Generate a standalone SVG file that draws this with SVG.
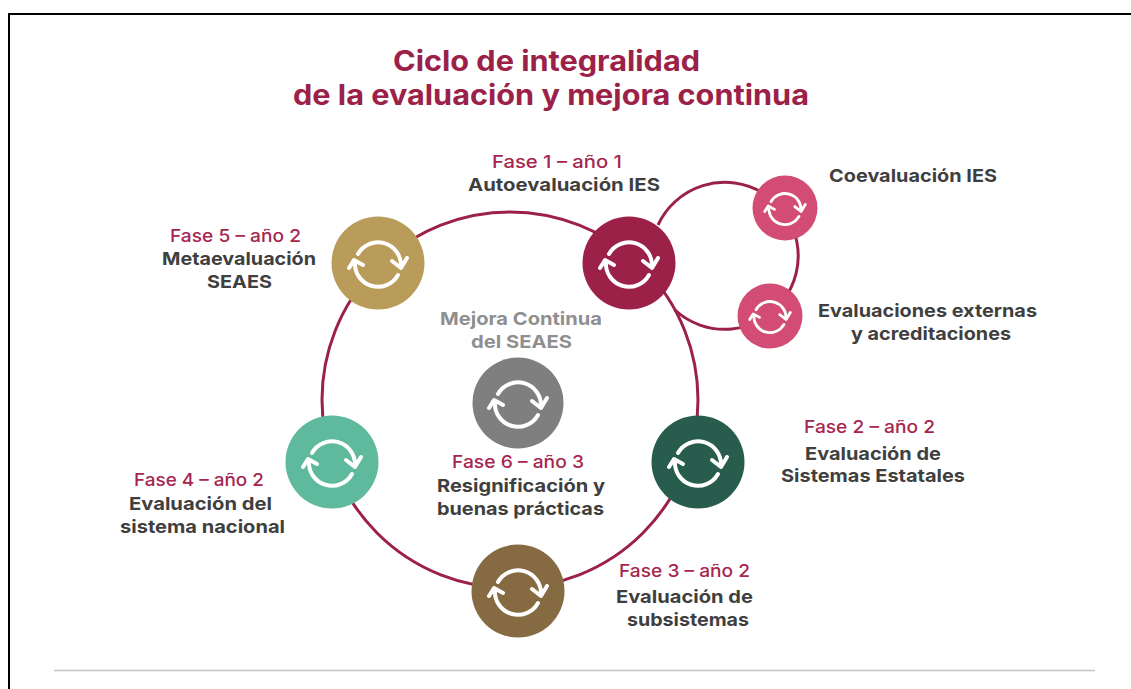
<svg xmlns="http://www.w3.org/2000/svg" width="1131" height="689" viewBox="0 0 1131 689">
<style>
text{font-family:"Inter","Noto Sans","Liberation Sans",sans-serif;text-anchor:start}
.t{font-size:28px;font-weight:700;fill:#9c2148}
.f{font-size:17.500px;font-weight:500;fill:#a6264f}
.d{font-size:18px;font-weight:700;fill:#3f3f3f}
.m{font-size:18px;font-weight:700;fill:#8f8f8f}
.c{fill:none;stroke:#9c2148;stroke-width:3}
.i{fill:none;stroke:#fff;stroke-width:4;stroke-linecap:round;stroke-linejoin:round}
</style>
<defs>
<g id="cy" class="i"><path d="M-20,-9A23 23 0 0 1 23,3M29,-5L23,5L14,-2"/><path d="M20,12A23 23 0 0 1 -23,-1M-29,5L-24,-3L-15,2"/></g>
</defs>
<rect width="1131" height="689" fill="#fff"/>
<path d="M9,689V14H1131" fill="none" stroke="#000" stroke-width="2"/>
<path d="M54,670.500H1095" fill="none" stroke="#c4c4c4" stroke-width="1.500"/>
<g id="title"><text class="t" x="393" y="71" textLength="307" lengthAdjust="spacingAndGlyphs">Ciclo de integralidad</text><text class="t" x="293" y="105" textLength="516" lengthAdjust="spacingAndGlyphs">de la evaluación y mejora continua</text></g>
<g id="connectors">
<circle class="c" cx="510" cy="400" r="188"/>
<path class="c" d="M658,225A73.500 73.500 0 1 1 675,310"/>
</g>
<g id="fase1"><circle cx="629" cy="263" r="46.500" fill="#9c2148"/><use href="#cy" x="629" y="263"/><text class="f" x="492" y="168" textLength="130" lengthAdjust="spacingAndGlyphs">Fase 1 – año 1</text><text class="d" x="468" y="191" textLength="192" lengthAdjust="spacingAndGlyphs">Autoevaluación IES</text></g>
<g id="coevaluacion"><circle cx="785" cy="208" r="32.500" fill="#d34c75"/><use href="#cy" transform="translate(785 208) scale(.7)"/><text class="d" x="829" y="182" textLength="168" lengthAdjust="spacingAndGlyphs">Coevaluación IES</text></g>
<g id="externas"><circle cx="770" cy="316" r="32.500" fill="#d34c75"/><use href="#cy" transform="translate(770 316) scale(.7)"/><text class="d" x="818" y="317" textLength="219" lengthAdjust="spacingAndGlyphs">Evaluaciones externas</text><text class="d" x="851" y="340" textLength="160" lengthAdjust="spacingAndGlyphs">y acreditaciones</text></g>
<g id="fase2"><circle cx="698" cy="462" r="46.500" fill="#285c4d"/><use href="#cy" x="698" y="462"/><text class="f" x="804" y="433" textLength="131" lengthAdjust="spacingAndGlyphs">Fase 2 – año 2</text><text class="d" x="805" y="460" textLength="136" lengthAdjust="spacingAndGlyphs">Evaluación de</text><text class="d" x="781" y="482" textLength="184" lengthAdjust="spacingAndGlyphs">Sistemas Estatales</text></g>
<g id="fase3"><circle cx="518" cy="591" r="46.500" fill="#866a42"/><use href="#cy" x="518" y="591"/><text class="f" x="619" y="577" textLength="131" lengthAdjust="spacingAndGlyphs">Fase 3 – año 2</text><text class="d" x="616" y="603" textLength="137" lengthAdjust="spacingAndGlyphs">Evaluación de</text><text class="d" x="627" y="626" textLength="122" lengthAdjust="spacingAndGlyphs">subsistemas</text></g>
<g id="fase4"><circle cx="332" cy="462" r="46.500" fill="#5eb99d"/><use href="#cy" x="332" y="462"/><text class="f" x="134" y="486" textLength="130" lengthAdjust="spacingAndGlyphs">Fase 4 – año 2</text><text class="d" x="129" y="510" textLength="143" lengthAdjust="spacingAndGlyphs">Evaluación del</text><text class="d" x="120" y="533" textLength="165" lengthAdjust="spacingAndGlyphs">sistema nacional</text></g>
<g id="fase5"><circle cx="378" cy="263" r="46.500" fill="#b99c59"/><use href="#cy" x="378" y="263"/><text class="f" x="170" y="242" textLength="131" lengthAdjust="spacingAndGlyphs">Fase 5 – año 2</text><text class="d" x="162" y="265" textLength="154" lengthAdjust="spacingAndGlyphs">Metaevaluación</text><text class="d" x="207" y="288" textLength="65" lengthAdjust="spacingAndGlyphs">SEAES</text></g>
<g id="fase6"><circle cx="518" cy="403" r="45.500" fill="#7f7f7f"/><use href="#cy" x="518" y="403"/><text class="m" x="440" y="325" textLength="162" lengthAdjust="spacingAndGlyphs">Mejora Continua</text><text class="m" x="471" y="348" textLength="101" lengthAdjust="spacingAndGlyphs">del SEAES</text><text class="f" x="452" y="468" textLength="132" lengthAdjust="spacingAndGlyphs">Fase 6 – año 3</text><text class="d" x="437" y="492" textLength="168" lengthAdjust="spacingAndGlyphs">Resignificación y</text><text class="d" x="437" y="515" textLength="167" lengthAdjust="spacingAndGlyphs">buenas prácticas</text></g>
</svg>
